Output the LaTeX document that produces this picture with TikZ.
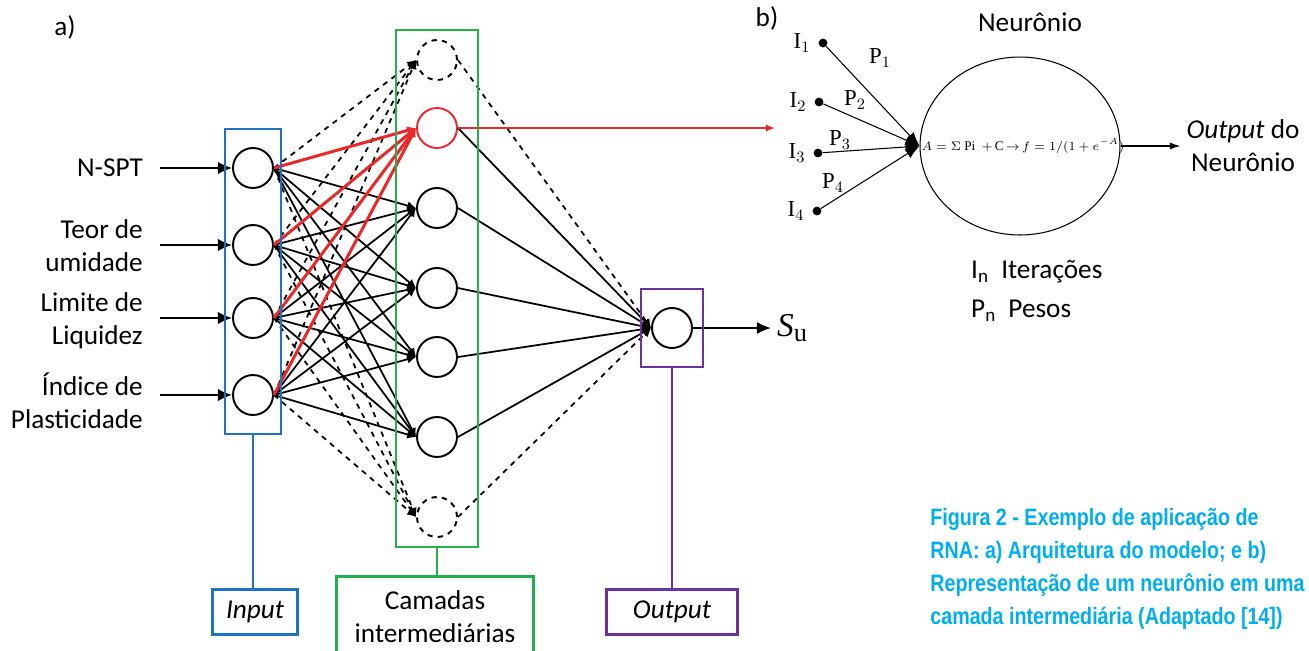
\documentclass[tikz,border=0pt]{standalone}
\usepackage{fontspec}
\setmainfont{Carlito}
\newfontfamily\timesfont{Liberation Serif}
\newfontfamily\capfont[FakeStretch=0.83]{Liberation Sans}
\usetikzlibrary{arrows.meta,positioning,fit,shapes.geometric}
\definecolor{inblue}{RGB}{30,115,190}
\definecolor{hidgreen}{RGB}{34,177,76}
\definecolor{outpurple}{RGB}{112,48,160}
\definecolor{netred}{RGB}{235,40,40}
\definecolor{capcyan}{RGB}{0,174,239}

\begin{document}
\begin{tikzpicture}[x=0.02cm,y=-0.02cm,>={Latex[length=8pt,width=7pt]},
  every node/.style={font=\fontsize{15.5}{18.7}\selectfont},
  neuron/.style={circle,draw,line width=1.1pt,minimum size=0.8cm,inner sep=0pt},
  ghost/.style={neuron,dashed},
  link/.style={line width=1pt,-{Latex[length=5pt,width=5pt]}},
  redlink/.style={link,netred,line width=1.7pt},
  layerbox/.style={draw=#1,line width=1.5pt,inner sep=0pt},
  tagbox/.style={draw=#1,line width=1.5pt,minimum width=1.7cm,minimum height=0.9cm,inner sep=0pt},
  dot/.style={circle,fill,inner sep=0pt,minimum size=5pt},
  serif/.style={font=\timesfont\fontsize{13}{15}\selectfont}]
\useasboundingbox (0,0) rectangle (1309,650);

% ---- a) architecture
\node at (65,27) {a)};

\foreach \i/\y in {1/168,2/245,3/318,4/395}
  \node[neuron] (in\i) at (253,\y) {};

\node[ghost] (h0) at (437,60) {};
\node[neuron,draw=netred] (h1) at (437,128) {};
\foreach \j/\y in {2/208,3/288,4/357,5/437}
  \node[neuron] (h\j) at (437,\y) {};
\node[ghost] (h6) at (437,517) {};

\node[neuron] (out) at (672,328) {};

% input texts
\node[anchor=east,align=right] (t1) at (149,168) {N-SPT};
\node[anchor=east,align=right] (t2) at (149,246) {Teor de\\umidade};
\node[anchor=east,align=right] (t3) at (149,321) {Limite de\\Liquidez};
\node[anchor=east,align=right] (t4) at (149,401) {Índice de\\Plasticidade};
\foreach \i/\y in {1/168,2/245,3/318,4/395}{
  \coordinate (a\i) at (160,\y);
  \draw[->,line width=1pt] (a\i) -- (in\i.west);
}

% connections input -> hidden
\foreach \i in {1,...,4}{
  \draw[link,dashed] (in\i.east) -- (h0.west);
  \draw[link,dashed] (in\i.east) -- (h6.west);
  \foreach \j in {2,...,5}
    \draw[link] (in\i.east) -- (h\j.west);
}
\foreach \i in {1,...,4}
  \draw[redlink] (in\i.east) -- (h1.west);

% connections hidden -> output
\foreach \j in {1,...,5}
  \draw[link] (h\j.east) -- (out.west);
\draw[link,dashed] (h0.east) -- (out.west);
\draw[link,dashed] (h6.east) -- (out.west);

\node (su) at (792,328) {\timesfont\fontsize{19}{20}\selectfont\itshape S\raisebox{-0.35ex}{\upshape\fontsize{15}{16}\selectfont u}};
\draw[->,line width=1pt] (out.east) -- (su.west);

\coordinate (zoomtip) at (775,128);
\draw[netred,line width=0.8pt,-{Latex[length=5pt,width=4pt]}] (h1.east) -- (zoomtip);

% layer boxes and tags
\node[layerbox=inblue,fit=(in1)(in4),inner xsep=0.14cm,inner ysep=0.36cm] (inbox) {};
\node[layerbox=hidgreen,fit=(h0)(h6),inner xsep=0.4cm,inner ysep=0.18cm] (hidbox) {};
\node[layerbox=outpurple,fit=(out),inner xsep=0.2cm,inner ysep=0.36cm] (outbox) {};

\node[tagbox=inblue] (intag) at (255,612) {\itshape Input};
\node[tagbox=hidgreen,minimum width=3.94cm,minimum height=1.8cm,anchor=north] (hidtag) at (435,575) {};
\node at (435,600) {Camadas};
\node at (435,633) {intermediárias};
\node[tagbox=outpurple,minimum width=2.62cm] (outtag) at (672,612) {\itshape Output};

\draw[inblue,line width=1.5pt] (inbox.south) -- (inbox.south |- intag.north);
\draw[hidgreen,line width=1.5pt] (hidbox.south) -- (hidbox.south |- hidtag.north);
\draw[outpurple,line width=1.5pt] (outbox.south) -- (outbox.south |- outtag.north);

% ---- b) single neuron
\node at (767,18) {b)};
\node at (1030,22) {Neurônio};

\node[draw,ellipse,line width=0.6pt,minimum width=4cm,minimum height=3.56cm,inner sep=0pt] (cell) at (1020,146) {};

\foreach \k/\x/\y in {1/823/43,2/819/102,3/818/153,4/817/211}{
  \node[dot] (d\k) at (\x,\y) {};
  \node[serif,left=1pt of d\k] {I$_{\k}$};
  \draw[line width=0.6pt,-{Latex[length=8pt,width=6pt]}] (d\k) -- (cell.west);
}
\node[serif] at (880,58) {P$_1$};
\node[serif] at (855,100) {P$_2$};
\node[serif] at (840,140) {P$_3$};
\node[serif] at (833,183) {P$_4$};

\node[anchor=west,font=\timesfont\fontsize{7.5}{9}\selectfont,inner sep=1pt] (sumtxt) at (cell.west)
  {$A = \Sigma$ Pi \ $+$\,C\,$\rightarrow$\,$f = 1/(1 + e^{-A})$};

\node[align=center] (outtxt) at (1243,146) {\itshape Output\/ \upshape do\\Neurônio};
\draw[line width=0.6pt,-{Latex[length=6pt,width=4pt]}] (cell.east) -- (outtxt.west);

\node[anchor=west] at (965,272) {I$_{\mathrm{n}}$\ \ Iterações};
\node[anchor=west] at (965,311) {P$_{\mathrm{n}}$\ \ Pesos};

% ---- caption
\node[anchor=north west,align=left,text=capcyan,inner sep=0pt,
  font=\capfont\bfseries\fontsize{13.5}{18.7}\selectfont] (caption) at (930,508)
  {Figura 2 - Exemplo de aplicação de\\RNA: a) Arquitetura do modelo; e b)\\Representação de um neurônio em uma\\camada intermediária (Adaptado [14])};
\end{tikzpicture}
\end{document}
